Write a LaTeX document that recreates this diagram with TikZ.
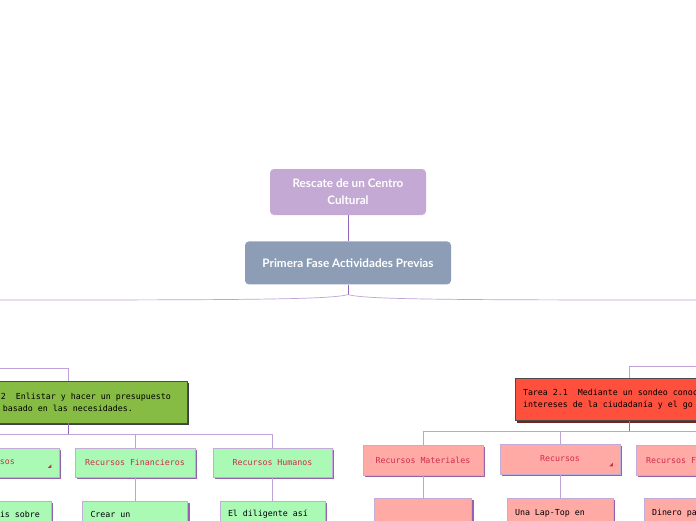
\documentclass[tikz,border=0pt]{standalone}
\usepackage{fontspec}
\setmainfont{Lato}
\newfontfamily\monofuente{DejaVu Sans Mono}
\newcommand\fuentecaja{\monofuente\fontsize{8.3}{12}\selectfont}
\usetikzlibrary{positioning, shadows}

\definecolor{lavanda}{HTML}{C3A9D3}
\definecolor{pizarra}{HTML}{8C9DB5}
\definecolor{verdetarea}{HTML}{86BC44}
\definecolor{rojotarea}{HTML}{FF503E}
\definecolor{verdeclaro}{HTML}{AAFAB6}
\definecolor{rosa}{HTML}{FFAAA5}
\definecolor{carmesi}{HTML}{D02C4C}
\definecolor{bordelila}{HTML}{C4ACDA}
\definecolor{sombralila}{HTML}{9462AE}
\definecolor{ramalila}{HTML}{BFA2D8}
\definecolor{troncolila}{HTML}{9464B8}

\begin{document}
\begin{tikzpicture}[
    x=1pt, y=-1pt,
    tema/.style={
        rounded corners=4pt,
        align=center,
        text=white,
        font=\fontsize{11.7}{17}\selectfont\bfseries,
        inner sep=0pt
    },
    tarea/.style={
        draw=black!70,
        line width=0.6pt,
        font=\fuentecaja,
        align=left,
        execute at begin node={\spaceskip=0pt\xspaceskip=0pt\relax},
        inner xsep=8pt,
        inner ysep=0pt,
        minimum height=42pt,
        general shadow={fill=#1, shadow xshift=2pt, shadow yshift=-2pt}
    },
    recurso/.style={
        draw=bordelila,
        line width=0.6pt,
        font=\fuentecaja,
        text=carmesi,
        inner sep=0pt,
        minimum height=29pt,
        general shadow={fill=sombralila, shadow xshift=2pt, shadow yshift=-2pt}
    },
    detalle/.style={
        recurso,
        text=black,
        align=left,
        execute at begin node={\spaceskip=0pt\xspaceskip=0pt\relax},
        inner xsep=8pt,
        minimum height=26pt
    },
    rama/.style={draw=ramalila, line width=0.7pt},
    tronco/.style={draw=troncolila, line width=0.8pt},
    marca/.style={fill=carmesi, draw=none}
]
\useasboundingbox (0,0) rectangle (696,520);
\clip (0,0) rectangle (696,520);

% nodos centrales
\node[tema, fill=lavanda, minimum width=156pt, minimum height=46pt] (centro) at (348,192)
{Rescate de un Centro\\Cultural};
\node[tema, fill=pizarra, minimum width=206pt, minimum height=43pt, below=26pt of centro] (fase)
{Primera Fase Actividades Previas};

% tareas
\node[tarea=black!75, fill=verdetarea, minimum width=238pt, text width=222pt] (t22) at (68,402)
{\hspace*{44pt}2\ \ Enlistar y hacer un presupuesto\\\hspace*{46pt}basado en las necesidades.};
\node[tarea=rojotarea!45!black, fill=rojotarea, minimum width=228pt, text width=212pt] (t21) at (629,399.5)
{Tarea 2.1\ \ Mediante un sondeo conoc\\intereses de la ciudadanía y el go};

% recursos (verde)
\node[recurso, fill=verdeclaro, minimum width=120pt, align=left, text width=104pt, inner xsep=8pt] (recL) at (-1,462.5)
{\hspace*{53pt}sos};
\node[recurso, fill=verdeclaro, minimum width=120pt] (recFin) at (135,462.5) {Recursos Financieros};
\node[recurso, fill=verdeclaro, minimum width=119pt] (recHum) at (272.5,462.5) {Recursos Humanos};

\node[detalle, fill=verdeclaro, text width=88pt] (sobre) at (-1,514) {\hspace*{45pt}is sobre};
\node[detalle, fill=verdeclaro, text width=89pt] (crear) at (135,514) {Crear un};
\node[detalle, fill=verdeclaro, text width=89pt] (diligente) at (272.5,514) {El diligente así};

% recursos (rosa)
\node[recurso, fill=rosa, minimum width=120pt, minimum height=30pt] (recMat) at (423,460) {Recursos Materiales};
\node[recurso, fill=rosa, minimum width=120pt, minimum height=30pt] (recursos) at (560,459) {Recursos};
\node[recurso, fill=rosa, minimum width=120pt, minimum height=30pt] (recFinD) at (696,460) {Recursos Financieros};

\node[detalle, fill=rosa, minimum height=30pt, text width=81pt] (vacio) at (423,513) {};
\node[detalle, fill=rosa, minimum height=30pt, text width=90pt] (laptop) at (560,513) {Una Lap-Top en};
\node[detalle, fill=rosa, minimum height=30pt, text width=90pt] (dinero) at (697,513) {Dinero pa};

% marcas de plegado
\fill[marca] ([shift={(-8,-9.5)}]recL.south east) -- ++(-3.5,0) -- ++(3.5,-3.5) -- cycle;
\fill[marca] ([shift={(-7.5,-8)}]recursos.south east) -- ++(-3.5,0) -- ++(3.5,-3.5) -- cycle;

% conectores
\coordinate (salidaI) at (-1,300);
\coordinate (salidaD) at (697,300);
\coordinate (llegaI) at (-1,368);
\coordinate (llegaD) at (697,366);

\draw[tronco] (centro) -- (fase);
\draw[tronco] (fase.south) -- ++(0,10) coordinate (nudo);
\draw[rama] (nudo) .. controls (330,299.5) and (250,300) .. (salidaI);
\draw[rama] (nudo) .. controls (366,299.5) and (446,300) .. (salidaD);

\draw[rama] (llegaI) -| (t22.north);
\draw[rama] (llegaD) -| (t21.north);

\draw[tronco] (t22.south) -- ++(0,11) coordinate (busI);
\draw[rama] (busI) -| (recL.north);
\draw[rama] (busI) -| (recFin.north);
\draw[rama] (busI) -| (recHum.north);

\draw[tronco] (t21.south) -- ++(0,11) coordinate (busD);
\draw[rama] (busD) -| (recMat.north);
\draw[rama] (busD) -| (recursos.north);
\draw[rama] (busD) -| (recFinD.north);

\draw[rama] (recL) -- (sobre);
\draw[rama] (recFin) -- (crear);
\draw[rama] (recHum) -- (diligente);
\draw[rama] (recMat) -- (vacio);
\draw[rama] (recursos) -- (laptop);
\draw[rama] (recFinD) -- (dinero);

\end{tikzpicture}
\end{document}
